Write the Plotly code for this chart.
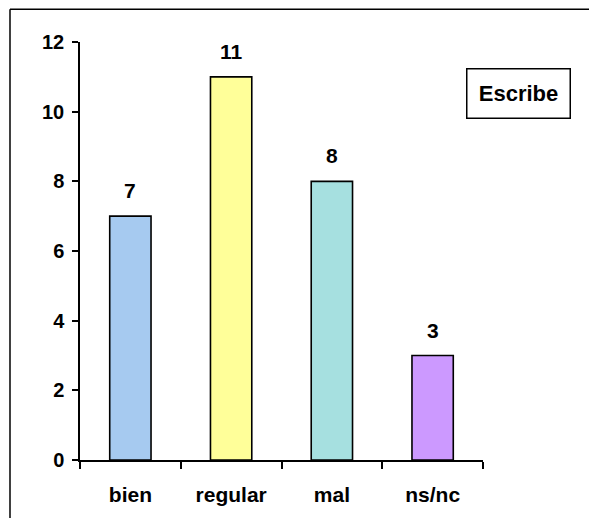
import plotly.graph_objects as go

categories = ["bien", "regular", "mal", "ns/nc"]
values = [7, 11, 8, 3]
colors = ["#A6CAF0", "#FFFF99", "#A6E0E0", "#CC99FF"]
y_ticks = [0, 2, 4, 6, 8, 10, 12]
legend_label = "Escribe"

FONT = "Liberation Sans, Arial, sans-serif"

fig = go.Figure()
fig.add_trace(go.Bar(
    x=categories, y=values, width=0.41,
    marker=dict(color=colors, line=dict(color="black", width=1.6)),
    showlegend=False, hoverinfo="skip",
))

for c, v in zip(categories, values):
    fig.add_annotation(x=c, y=v, text=f"<b>{v}</b>", showarrow=False,
                       xanchor="center", yanchor="bottom", yshift=12,
                       font=dict(family=FONT, size=21, color="black"))

fig.add_annotation(xref="paper", yref="paper", x=1.089, y=0.8765,
                   xanchor="center", yanchor="middle",
                   text=f"<b>{legend_label}</b>", showarrow=False,
                   width=100, height=46, borderpad=1, borderwidth=1.5,
                   bordercolor="black", bgcolor="white",
                   font=dict(family=FONT, size=22, color="black"))

# outer chart border (top and left visible)
fig.add_shape(type="line", xref="paper", yref="paper",
              x0=-0.1737, x1=1.5, y0=1.0784, y1=1.0784,
              line=dict(color="black", width=1.5))
fig.add_shape(type="line", xref="paper", yref="paper",
              x0=-0.1737, x1=-0.1737, y0=-0.2, y1=1.0784,
              line=dict(color="black", width=1.5))

fig.update_layout(
    width=581, height=510,
    margin=dict(l=72, r=106, t=34, b=55),
    paper_bgcolor="white", plot_bgcolor="white",
    font=dict(family=FONT, size=20, color="black"),
    bargap=0.59,
)
fig.update_xaxes(
    type="category", tickson="boundaries",
    showline=True, linecolor="black", linewidth=1.5,
    ticks="outside", ticklen=7, tickwidth=1.5, tickcolor="black",
    tickfont=dict(family=FONT, size=21, color="black"),
    ticklabelstandoff=15,
    tickvals=categories, ticktext=[f"<b>{c}</b>" for c in categories],
    showgrid=False, zeroline=False,
)
fig.update_yaxes(
    range=[0, 12], tickvals=y_ticks, ticktext=[f"<b>{t}</b>" for t in y_ticks],
    showline=True, linecolor="black", linewidth=1.5,
    ticks="outside", ticklen=6, tickwidth=1.5, tickcolor="black",
    tickfont=dict(family=FONT, size=20, color="black"),
    ticklabelstandoff=4,
    showgrid=False, zeroline=False,
)

fig.write_html("out.html")
